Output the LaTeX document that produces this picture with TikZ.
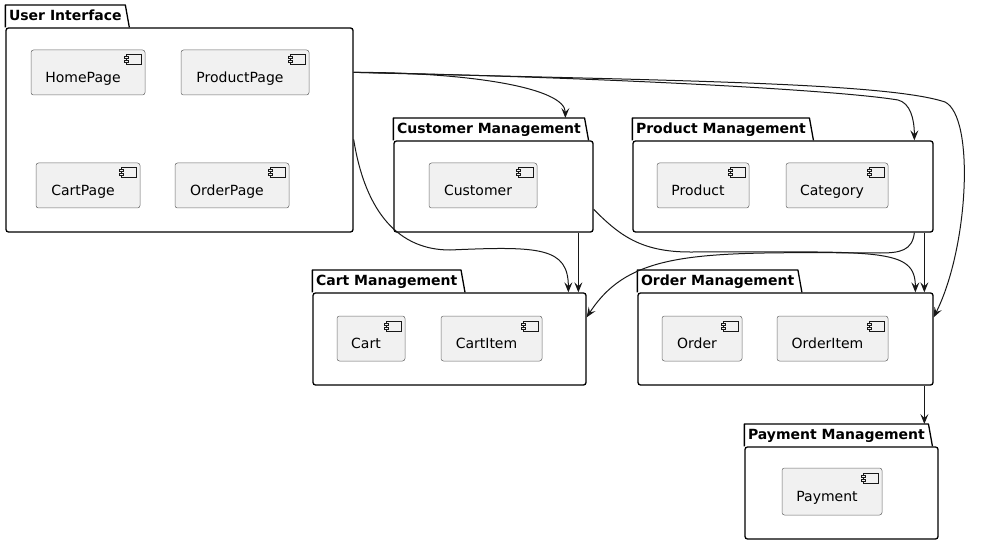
\documentclass[tikz,border=0pt]{standalone}
\usepackage{fontspec}
\setmainfont{DejaVu Sans}
\usetikzlibrary{arrows.meta}

\definecolor{compfill}{HTML}{F1F1F1}
\definecolor{umlline}{HTML}{181818}

\tikzset{
  pkg/.style={draw=black, line width=1.3pt, rounded corners=2.5pt, fill=white, inner sep=0pt},
  pkgtab/.style={anchor=south west, font=\bfseries\fontsize{14}{16}\selectfont, inner xsep=3.5pt, inner ysep=0pt,
    minimum height=22pt, text height=11pt, text depth=3pt},
  tabline/.style={draw=black, line width=1.3pt, line join=round},
  comp/.style={draw=umlline!65, fill=compfill, line width=0.5pt, rounded corners=2.5pt, minimum height=45pt,
    inner sep=0pt, font=\fontsize{14}{16}\selectfont, text height=23.4pt, text depth=3pt,
    execute at end node={\hspace*{10pt}}},
  icon/.style={draw=umlline, line width=0.5pt, fill=compfill},
  dep/.style={draw=umlline, line width=1pt, -{Stealth[length=10pt,width=8pt,inset=4pt]}}
}

% tab on top of a package
\newcommand{\tabedge}[1]{\draw[tabline] (#1.south west) -- (#1.north west) -- (#1.north east) -- ([xshift=4pt]#1.south east);}
% little component symbol in the upper right corner
\newcommand{\compicon}[1]{%
  \draw[icon] ([shift={(-19,5)}]#1.north east) rectangle ([shift={(-4,15)}]#1.north east);
  \draw[icon] ([shift={(-21,7)}]#1.north east) rectangle ([shift={(-17,9)}]#1.north east);
  \draw[icon] ([shift={(-21,11)}]#1.north east) rectangle ([shift={(-17,13)}]#1.north east);%
}

\begin{document}
\begin{tikzpicture}[x=1pt,y=-1pt]
\useasboundingbox (0,0) rectangle (981,545);

% Packages
\node[pkg, minimum width=347pt, minimum height=204pt] (ui) at (179.5,130) {};
\node[pkgtab] (uit) at (ui.north west) {User Interface};
\tabedge{uit}

\node[pkg, minimum width=199pt, minimum height=91pt] (cust) at (493.5,186.5) {};
\node[pkgtab] (custt) at (cust.north west) {Customer Management};
\tabedge{custt}

\node[pkg, minimum width=300pt, minimum height=91pt] (prod) at (783,186.5) {};
\node[pkgtab] (prodt) at (prod.north west) {Product Management};
\tabedge{prodt}

\node[pkg, minimum width=273pt, minimum height=92pt] (cart) at (449.5,339) {};
\node[pkgtab] (cartt) at (cart.north west) {Cart Management};
\tabedge{cartt}

\node[pkg, minimum width=295pt, minimum height=92pt] (order) at (785.5,339) {};
\node[pkgtab] (ordert) at (order.north west) {Order Management};
\tabedge{ordert}

\node[pkg, minimum width=193pt, minimum height=92pt] (pay) at (841.5,493) {};
\node[pkgtab] (payt) at (pay.north west) {Payment Management};
\tabedge{payt}

% Components
\node[comp, minimum width=114pt] (home) at (88,72.5) {HomePage};
\node[comp, minimum width=128pt] (prodpage) at (245,72.5) {ProductPage};
\node[comp, minimum width=104pt] (cartpage) at (88,185.5) {CartPage};
\node[comp, minimum width=114pt] (orderpage) at (232,185.5) {OrderPage};
\node[comp, minimum width=108pt] (customer) at (483,185.5) {Customer};
\node[comp, minimum width=92pt] (product) at (703,185.5) {Product};
\node[comp, minimum width=102pt] (category) at (837,185.5) {Category};
\node[comp, minimum width=68pt] (cartc) at (371,338.5) {Cart};
\node[comp, minimum width=101pt] (cartitem) at (491.5,338.5) {CartItem};
\node[comp, minimum width=80pt] (orderc) at (702,338.5) {Order};
\node[comp, minimum width=111pt] (orderitem) at (832.5,338.5) {OrderItem};
\node[comp, minimum width=100pt, minimum height=47pt] (payment) at (832,491.5) {Payment};
\foreach \c in {home,prodpage,cartpage,orderpage,customer,product,category,cartc,cartitem,orderc,orderitem,payment}
  {\compicon{\c}}

% Dependencies
\draw[dep] ([shift={(0,45)}]ui.north east) .. controls +(117,0) and +(0,-30) .. ([xshift=172pt]custt.north west);
\draw[dep] ([shift={(0,45)}]ui.north east) .. controls +(250,5) and +(-60,-10) .. (898,100)
  .. controls +(12,3) and +(0,-22) .. ([xshift=282pt]prod.north west);
\draw[dep] ([shift={(0,45)}]ui.north east) .. controls +(300,8) and +(-60,-20) .. (945,102)
  .. controls +(30,15) and +(35,-70) .. ([shift={(0,25)}]order.north east);
\draw[dep] ([shift={(0,112)}]ui.north east) .. controls +(12,75) and +(-50,0) .. (450,250)
  .. controls +(90,-4) and +(0,-45) .. ([xshift=256pt]cart.north west);
\draw[dep] ([xshift=185pt]cust.south west) -- ([xshift=266pt]cart.north west);
\draw[dep] ([shift={(0,69)}]cust.north east) .. controls +(25,25) and +(-50,0) .. (690,252)
  .. controls +(190,0) and +(0,-45) .. ([xshift=278pt]order.north west);
\draw[dep] ([xshift=282pt]prod.south west) .. controls +(-2,18) and +(20,0) .. (880,253)
  .. controls +(-180,-1) and +(44,-68) .. ([shift={(0,25)}]cart.north east);
\draw[dep] ([xshift=292pt]prod.south west) -- ([xshift=287pt]order.north west);
\draw[dep] ([xshift=287pt]order.south west) -- ([xshift=180pt]payt.north west);

\end{tikzpicture}
\end{document}
